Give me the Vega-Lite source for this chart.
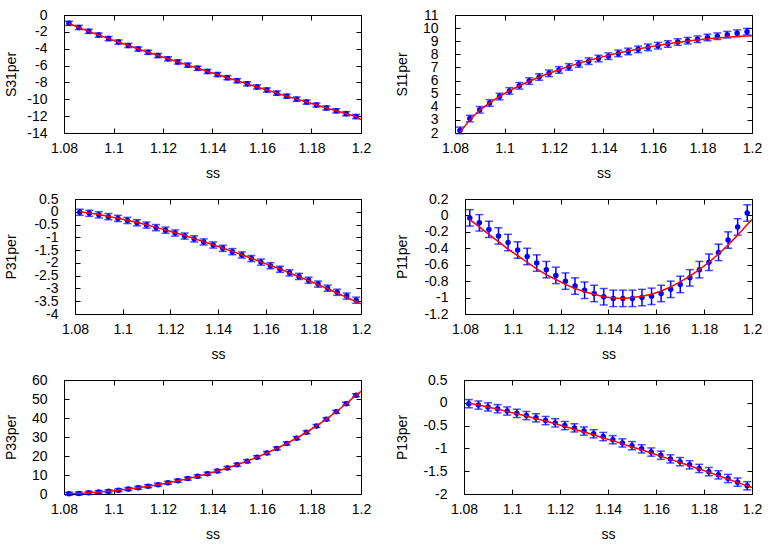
{
  "$schema": "https://vega.github.io/schema/vega-lite/v6.json",
  "padding": {"left": 4, "top": 8, "right": 0, "bottom": 0},
  "spacing": 12,
  "config": {
    "view": {"stroke": null},
    "axis": {"grid": false, "domain": true, "domainColor": "#000000", "domainWidth": 1, "labelFont": "Liberation Sans", "titleFont": "Liberation Sans", "labelFontSize": 14, "titleFontSize": 14, "titleFontWeight": "normal", "labelColor": "#000000", "titleColor": "#000000", "tickColor": "#000000", "tickSize": -5, "tickWidth": 1, "labelFlush": false, "labelOverlap": false}
  },
  "datasets": {
    "p1": [{"ss":1.082,"v":-0.99,"e":0.25},{"ss":1.086,"v":-1.48,"e":0.25},{"ss":1.09,"v":-1.94,"e":0.25},{"ss":1.094,"v":-2.38,"e":0.25},{"ss":1.098,"v":-2.8,"e":0.25},{"ss":1.102,"v":-3.21,"e":0.25},{"ss":1.106,"v":-3.62,"e":0.25},{"ss":1.11,"v":-4.03,"e":0.25},{"ss":1.114,"v":-4.42,"e":0.25},{"ss":1.118,"v":-4.81,"e":0.25},{"ss":1.122,"v":-5.2,"e":0.25},{"ss":1.126,"v":-5.57,"e":0.25},{"ss":1.13,"v":-5.95,"e":0.25},{"ss":1.134,"v":-6.32,"e":0.25},{"ss":1.138,"v":-6.7,"e":0.25},{"ss":1.142,"v":-7.07,"e":0.25},{"ss":1.146,"v":-7.44,"e":0.25},{"ss":1.15,"v":-7.8,"e":0.25},{"ss":1.154,"v":-8.17,"e":0.25},{"ss":1.158,"v":-8.54,"e":0.25},{"ss":1.162,"v":-8.9,"e":0.25},{"ss":1.166,"v":-9.27,"e":0.25},{"ss":1.17,"v":-9.63,"e":0.25},{"ss":1.174,"v":-9.98,"e":0.25},{"ss":1.178,"v":-10.33,"e":0.25},{"ss":1.182,"v":-10.68,"e":0.25},{"ss":1.186,"v":-11.03,"e":0.25},{"ss":1.19,"v":-11.37,"e":0.25},{"ss":1.194,"v":-11.71,"e":0.25},{"ss":1.198,"v":-12.05,"e":0.25}],
    "p1f": [{"ss":1.082,"v":-0.99},{"ss":1.086,"v":-1.48},{"ss":1.09,"v":-1.94},{"ss":1.094,"v":-2.38},{"ss":1.098,"v":-2.8},{"ss":1.102,"v":-3.21},{"ss":1.106,"v":-3.62},{"ss":1.11,"v":-4.03},{"ss":1.114,"v":-4.42},{"ss":1.118,"v":-4.81},{"ss":1.122,"v":-5.2},{"ss":1.126,"v":-5.57},{"ss":1.13,"v":-5.95},{"ss":1.134,"v":-6.32},{"ss":1.138,"v":-6.7},{"ss":1.142,"v":-7.07},{"ss":1.146,"v":-7.44},{"ss":1.15,"v":-7.8},{"ss":1.154,"v":-8.17},{"ss":1.158,"v":-8.54},{"ss":1.162,"v":-8.9},{"ss":1.166,"v":-9.27},{"ss":1.17,"v":-9.63},{"ss":1.174,"v":-9.98},{"ss":1.178,"v":-10.33},{"ss":1.182,"v":-10.68},{"ss":1.186,"v":-11.03},{"ss":1.19,"v":-11.37},{"ss":1.194,"v":-11.71},{"ss":1.198,"v":-12.05},{"ss":1.2,"v":-12.4}],
    "p2": [{"ss":1.082,"v":2.2,"e":0.25},{"ss":1.086,"v":3.1,"e":0.25},{"ss":1.09,"v":3.77,"e":0.25},{"ss":1.094,"v":4.29,"e":0.25},{"ss":1.098,"v":4.78,"e":0.25},{"ss":1.102,"v":5.21,"e":0.25},{"ss":1.106,"v":5.6,"e":0.25},{"ss":1.11,"v":5.96,"e":0.25},{"ss":1.114,"v":6.27,"e":0.25},{"ss":1.118,"v":6.55,"e":0.25},{"ss":1.122,"v":6.81,"e":0.25},{"ss":1.126,"v":7.04,"e":0.25},{"ss":1.13,"v":7.27,"e":0.25},{"ss":1.134,"v":7.48,"e":0.25},{"ss":1.138,"v":7.68,"e":0.25},{"ss":1.142,"v":7.86,"e":0.25},{"ss":1.146,"v":8.07,"e":0.25},{"ss":1.15,"v":8.22,"e":0.25},{"ss":1.154,"v":8.38,"e":0.25},{"ss":1.158,"v":8.53,"e":0.25},{"ss":1.162,"v":8.66,"e":0.25},{"ss":1.166,"v":8.79,"e":0.25},{"ss":1.17,"v":8.94,"e":0.25},{"ss":1.174,"v":9.04,"e":0.25},{"ss":1.178,"v":9.15,"e":0.25},{"ss":1.182,"v":9.28,"e":0.25},{"ss":1.186,"v":9.38,"e":0.25},{"ss":1.19,"v":9.5,"e":0.25},{"ss":1.194,"v":9.61,"e":0.25},{"ss":1.198,"v":9.73,"e":0.25}],
    "p2f": [{"ss":1.082,"v":2.05},{"ss":1.086,"v":3.0},{"ss":1.09,"v":3.75},{"ss":1.094,"v":4.3},{"ss":1.098,"v":4.8},{"ss":1.102,"v":5.22},{"ss":1.106,"v":5.6},{"ss":1.11,"v":5.95},{"ss":1.114,"v":6.27},{"ss":1.118,"v":6.56},{"ss":1.122,"v":6.83},{"ss":1.126,"v":7.08},{"ss":1.13,"v":7.31},{"ss":1.134,"v":7.53},{"ss":1.138,"v":7.73},{"ss":1.142,"v":7.92},{"ss":1.146,"v":8.1},{"ss":1.15,"v":8.26},{"ss":1.154,"v":8.41},{"ss":1.158,"v":8.55},{"ss":1.162,"v":8.68},{"ss":1.166,"v":8.8},{"ss":1.17,"v":8.91},{"ss":1.174,"v":9.01},{"ss":1.178,"v":9.1},{"ss":1.182,"v":9.18},{"ss":1.186,"v":9.25},{"ss":1.19,"v":9.31},{"ss":1.194,"v":9.36},{"ss":1.198,"v":9.4},{"ss":1.2,"v":9.41}],
    "p3": [{"ss":1.082,"v":-0.02,"e":0.12},{"ss":1.086,"v":-0.06,"e":0.12},{"ss":1.09,"v":-0.12,"e":0.12},{"ss":1.094,"v":-0.19,"e":0.12},{"ss":1.098,"v":-0.26,"e":0.12},{"ss":1.102,"v":-0.34,"e":0.12},{"ss":1.106,"v":-0.43,"e":0.12},{"ss":1.11,"v":-0.52,"e":0.12},{"ss":1.114,"v":-0.62,"e":0.12},{"ss":1.118,"v":-0.72,"e":0.12},{"ss":1.122,"v":-0.83,"e":0.12},{"ss":1.126,"v":-0.95,"e":0.12},{"ss":1.13,"v":-1.06,"e":0.12},{"ss":1.134,"v":-1.18,"e":0.12},{"ss":1.138,"v":-1.3,"e":0.12},{"ss":1.142,"v":-1.43,"e":0.12},{"ss":1.146,"v":-1.56,"e":0.12},{"ss":1.15,"v":-1.69,"e":0.12},{"ss":1.154,"v":-1.83,"e":0.12},{"ss":1.158,"v":-1.97,"e":0.12},{"ss":1.162,"v":-2.11,"e":0.12},{"ss":1.166,"v":-2.25,"e":0.12},{"ss":1.17,"v":-2.39,"e":0.12},{"ss":1.174,"v":-2.53,"e":0.12},{"ss":1.178,"v":-2.68,"e":0.12},{"ss":1.182,"v":-2.83,"e":0.12},{"ss":1.186,"v":-2.99,"e":0.12},{"ss":1.19,"v":-3.15,"e":0.12},{"ss":1.194,"v":-3.3,"e":0.12},{"ss":1.198,"v":-3.46,"e":0.12}],
    "p3f": [{"ss":1.082,"v":0.0},{"ss":1.086,"v":-0.05},{"ss":1.09,"v":-0.11},{"ss":1.094,"v":-0.18},{"ss":1.098,"v":-0.25},{"ss":1.102,"v":-0.33},{"ss":1.106,"v":-0.42},{"ss":1.11,"v":-0.51},{"ss":1.114,"v":-0.61},{"ss":1.118,"v":-0.71},{"ss":1.122,"v":-0.82},{"ss":1.126,"v":-0.93},{"ss":1.13,"v":-1.05},{"ss":1.134,"v":-1.17},{"ss":1.138,"v":-1.29},{"ss":1.142,"v":-1.42},{"ss":1.146,"v":-1.55},{"ss":1.15,"v":-1.68},{"ss":1.154,"v":-1.82},{"ss":1.158,"v":-1.96},{"ss":1.162,"v":-2.1},{"ss":1.166,"v":-2.24},{"ss":1.17,"v":-2.39},{"ss":1.174,"v":-2.54},{"ss":1.178,"v":-2.69},{"ss":1.182,"v":-2.85},{"ss":1.186,"v":-3.01},{"ss":1.19,"v":-3.18},{"ss":1.194,"v":-3.35},{"ss":1.198,"v":-3.52},{"ss":1.2,"v":-3.6}],
    "p4": [{"ss":1.082,"v":-0.03,"e":0.1},{"ss":1.086,"v":-0.09,"e":0.1},{"ss":1.09,"v":-0.17,"e":0.1},{"ss":1.094,"v":-0.25,"e":0.1},{"ss":1.098,"v":-0.33,"e":0.1},{"ss":1.102,"v":-0.42,"e":0.1},{"ss":1.106,"v":-0.5,"e":0.1},{"ss":1.11,"v":-0.58,"e":0.1},{"ss":1.114,"v":-0.66,"e":0.1},{"ss":1.118,"v":-0.73,"e":0.1},{"ss":1.122,"v":-0.8,"e":0.1},{"ss":1.126,"v":-0.86,"e":0.1},{"ss":1.13,"v":-0.91,"e":0.1},{"ss":1.134,"v":-0.95,"e":0.1},{"ss":1.138,"v":-0.99,"e":0.1},{"ss":1.142,"v":-1.01,"e":0.1},{"ss":1.146,"v":-1.01,"e":0.1},{"ss":1.15,"v":-1.01,"e":0.1},{"ss":1.154,"v":-1.0,"e":0.1},{"ss":1.158,"v":-0.985,"e":0.1},{"ss":1.162,"v":-0.95,"e":0.1},{"ss":1.166,"v":-0.9,"e":0.1},{"ss":1.17,"v":-0.84,"e":0.1},{"ss":1.174,"v":-0.76,"e":0.1},{"ss":1.178,"v":-0.66,"e":0.1},{"ss":1.182,"v":-0.57,"e":0.1},{"ss":1.186,"v":-0.45,"e":0.1},{"ss":1.19,"v":-0.3,"e":0.1},{"ss":1.194,"v":-0.14,"e":0.1},{"ss":1.198,"v":0.03,"e":0.1}],
    "p4f": [{"ss":1.082,"v":-0.05},{"ss":1.086,"v":-0.14},{"ss":1.09,"v":-0.23},{"ss":1.094,"v":-0.32},{"ss":1.098,"v":-0.41},{"ss":1.102,"v":-0.49},{"ss":1.106,"v":-0.57},{"ss":1.11,"v":-0.65},{"ss":1.114,"v":-0.72},{"ss":1.118,"v":-0.78},{"ss":1.122,"v":-0.84},{"ss":1.126,"v":-0.89},{"ss":1.13,"v":-0.93},{"ss":1.134,"v":-0.96},{"ss":1.138,"v":-0.99},{"ss":1.142,"v":-1.005},{"ss":1.146,"v":-1.01},{"ss":1.15,"v":-1.0},{"ss":1.154,"v":-0.985},{"ss":1.158,"v":-0.96},{"ss":1.162,"v":-0.92},{"ss":1.166,"v":-0.87},{"ss":1.17,"v":-0.81},{"ss":1.174,"v":-0.74},{"ss":1.178,"v":-0.66},{"ss":1.182,"v":-0.57},{"ss":1.186,"v":-0.47},{"ss":1.19,"v":-0.36},{"ss":1.194,"v":-0.24},{"ss":1.198,"v":-0.11},{"ss":1.2,"v":-0.05}],
    "p5": [{"ss":1.082,"v":0.1,"e":0.8},{"ss":1.086,"v":0.3,"e":0.8},{"ss":1.09,"v":0.6,"e":0.8},{"ss":1.094,"v":1.0,"e":0.8},{"ss":1.098,"v":1.4,"e":0.8},{"ss":1.102,"v":2.0,"e":0.8},{"ss":1.106,"v":2.6,"e":0.8},{"ss":1.11,"v":3.3,"e":0.8},{"ss":1.114,"v":4.1,"e":0.8},{"ss":1.118,"v":4.9,"e":0.8},{"ss":1.122,"v":5.9,"e":0.8},{"ss":1.126,"v":7.0,"e":0.8},{"ss":1.13,"v":8.1,"e":0.8},{"ss":1.134,"v":9.3,"e":0.8},{"ss":1.138,"v":10.7,"e":0.8},{"ss":1.142,"v":12.1,"e":0.8},{"ss":1.146,"v":13.7,"e":0.8},{"ss":1.15,"v":15.4,"e":0.8},{"ss":1.154,"v":17.3,"e":0.8},{"ss":1.158,"v":19.4,"e":0.8},{"ss":1.162,"v":21.6,"e":0.8},{"ss":1.166,"v":24.0,"e":0.8},{"ss":1.17,"v":26.6,"e":0.8},{"ss":1.174,"v":29.4,"e":0.8},{"ss":1.178,"v":32.5,"e":0.8},{"ss":1.182,"v":35.8,"e":0.8},{"ss":1.186,"v":39.4,"e":0.8},{"ss":1.19,"v":43.3,"e":0.8},{"ss":1.194,"v":47.5,"e":0.8},{"ss":1.198,"v":52.0,"e":0.8}],
    "p5f": [{"ss":1.082,"v":0.1},{"ss":1.086,"v":0.3},{"ss":1.09,"v":0.6},{"ss":1.094,"v":1.0},{"ss":1.098,"v":1.4},{"ss":1.102,"v":2.0},{"ss":1.106,"v":2.6},{"ss":1.11,"v":3.3},{"ss":1.114,"v":4.1},{"ss":1.118,"v":4.9},{"ss":1.122,"v":5.9},{"ss":1.126,"v":7.0},{"ss":1.13,"v":8.1},{"ss":1.134,"v":9.3},{"ss":1.138,"v":10.7},{"ss":1.142,"v":12.1},{"ss":1.146,"v":13.7},{"ss":1.15,"v":15.4},{"ss":1.154,"v":17.3},{"ss":1.158,"v":19.4},{"ss":1.162,"v":21.6},{"ss":1.166,"v":24.0},{"ss":1.17,"v":26.6},{"ss":1.174,"v":29.4},{"ss":1.178,"v":32.5},{"ss":1.182,"v":35.8},{"ss":1.186,"v":39.4},{"ss":1.19,"v":43.3},{"ss":1.194,"v":47.5},{"ss":1.198,"v":52.0},{"ss":1.2,"v":54.0}],
    "p6": [{"ss":1.082,"v":-0.02,"e":0.09},{"ss":1.086,"v":-0.05,"e":0.09},{"ss":1.09,"v":-0.09,"e":0.09},{"ss":1.094,"v":-0.13,"e":0.09},{"ss":1.098,"v":-0.18,"e":0.09},{"ss":1.102,"v":-0.23,"e":0.09},{"ss":1.106,"v":-0.28,"e":0.09},{"ss":1.11,"v":-0.33,"e":0.09},{"ss":1.114,"v":-0.39,"e":0.09},{"ss":1.118,"v":-0.44,"e":0.09},{"ss":1.122,"v":-0.5,"e":0.09},{"ss":1.126,"v":-0.55,"e":0.09},{"ss":1.13,"v":-0.62,"e":0.09},{"ss":1.134,"v":-0.68,"e":0.09},{"ss":1.138,"v":-0.74,"e":0.09},{"ss":1.142,"v":-0.81,"e":0.09},{"ss":1.146,"v":-0.88,"e":0.09},{"ss":1.15,"v":-0.94,"e":0.09},{"ss":1.154,"v":-1.01,"e":0.09},{"ss":1.158,"v":-1.08,"e":0.09},{"ss":1.162,"v":-1.15,"e":0.09},{"ss":1.166,"v":-1.23,"e":0.09},{"ss":1.17,"v":-1.29,"e":0.09},{"ss":1.174,"v":-1.36,"e":0.09},{"ss":1.178,"v":-1.44,"e":0.09},{"ss":1.182,"v":-1.51,"e":0.09},{"ss":1.186,"v":-1.58,"e":0.09},{"ss":1.19,"v":-1.66,"e":0.09},{"ss":1.194,"v":-1.74,"e":0.09},{"ss":1.198,"v":-1.82,"e":0.09}],
    "p6f": [{"ss":1.082,"v":-0.01},{"ss":1.086,"v":-0.05},{"ss":1.09,"v":-0.09},{"ss":1.094,"v":-0.14},{"ss":1.098,"v":-0.19},{"ss":1.102,"v":-0.24},{"ss":1.106,"v":-0.29},{"ss":1.11,"v":-0.35},{"ss":1.114,"v":-0.4},{"ss":1.118,"v":-0.46},{"ss":1.122,"v":-0.52},{"ss":1.126,"v":-0.58},{"ss":1.13,"v":-0.64},{"ss":1.134,"v":-0.7},{"ss":1.138,"v":-0.77},{"ss":1.142,"v":-0.83},{"ss":1.146,"v":-0.9},{"ss":1.15,"v":-0.97},{"ss":1.154,"v":-1.03},{"ss":1.158,"v":-1.1},{"ss":1.162,"v":-1.17},{"ss":1.166,"v":-1.24},{"ss":1.17,"v":-1.31},{"ss":1.174,"v":-1.38},{"ss":1.178,"v":-1.45},{"ss":1.182,"v":-1.52},{"ss":1.186,"v":-1.6},{"ss":1.19,"v":-1.67},{"ss":1.194,"v":-1.75},{"ss":1.198,"v":-1.82},{"ss":1.2,"v":-1.86}]
  },
  "vconcat": [
    {"hconcat": [
      {"width": 297, "height": 118, "resolve": {"axis": {"x": "independent", "y": "independent"}},
       "layer": [
        {"data": {"name": "p1"}, "mark": {"type": "errorbar", "color": "#0000ff", "thickness": 1.5, "ticks": {"size": 8, "thickness": 1.5}},
         "encoding": {"x": {"field": "ss", "type": "quantitative", "scale": {"domain": [1.08, 1.2], "range": [0, 297], "nice": false, "zero": false}, "axis": null},
                      "y": {"field": "v", "type": "quantitative", "scale": {"domain": [-14, 0], "nice": false, "zero": false}, "axis": null},
                      "yError": {"field": "e"}}},
        {"data": {"name": "p1"}, "mark": {"type": "point", "filled": true, "shape": "circle", "size": 30, "color": "#0000ff", "opacity": 1},
         "encoding": {"x": {"field": "ss", "type": "quantitative", "scale": {"domain": [1.08, 1.2], "range": [0, 297], "nice": false, "zero": false}, "axis": {"orient": "top", "values": [1.08,1.1,1.12,1.14,1.16,1.18,1.2], "labels": false, "title": null}},
                      "y": {"field": "v", "type": "quantitative", "scale": {"domain": [-14, 0], "nice": false, "zero": false}, "axis": {"orient": "right", "values": [0,-2,-4,-6,-8,-10,-12,-14], "labels": false, "title": null}}}},
        {"data": {"name": "p1f"}, "mark": {"type": "line", "color": "#ff0000", "strokeWidth": 1.5, "clip": true},
         "encoding": {"x": {"field": "ss", "type": "quantitative", "scale": {"domain": [1.08, 1.2], "range": [0, 297], "nice": false, "zero": false}, "axis": {"orient": "bottom", "values": [1.08,1.1,1.12,1.14,1.16,1.18,1.2], "labelExpr": "toString(datum.value)", "title": "ss", "labelPadding": 13, "minExtent": 23, "maxExtent": 23, "titlePadding": 10}},
                      "y": {"field": "v", "type": "quantitative", "scale": {"domain": [-14, 0], "nice": false, "zero": false}, "axis": {"orient": "left", "offset": 0, "values": [0,-2,-4,-6,-8,-10,-12,-14], "labelExpr": "toString(datum.value)", "title": "S31per", "labelPadding": 22, "minExtent": 46, "maxExtent": 46, "titlePadding": 0}}}}
       ]},
      {"width": 297, "height": 118, "resolve": {"axis": {"x": "independent", "y": "independent"}},
       "layer": [
        {"data": {"name": "p2"}, "mark": {"type": "errorbar", "color": "#0000ff", "thickness": 1.5, "ticks": {"size": 8, "thickness": 1.5}},
         "encoding": {"x": {"field": "ss", "type": "quantitative", "scale": {"domain": [1.08, 1.2], "range": [0, 297], "nice": false, "zero": false}, "axis": null},
                      "y": {"field": "v", "type": "quantitative", "scale": {"domain": [2, 11], "nice": false, "zero": false}, "axis": null},
                      "yError": {"field": "e"}}},
        {"data": {"name": "p2"}, "mark": {"type": "point", "filled": true, "shape": "circle", "size": 30, "color": "#0000ff", "opacity": 1},
         "encoding": {"x": {"field": "ss", "type": "quantitative", "scale": {"domain": [1.08, 1.2], "range": [0, 297], "nice": false, "zero": false}, "axis": {"orient": "top", "values": [1.08,1.1,1.12,1.14,1.16,1.18,1.2], "labels": false, "title": null}},
                      "y": {"field": "v", "type": "quantitative", "scale": {"domain": [2, 11], "nice": false, "zero": false}, "axis": {"orient": "right", "values": [2,3,4,5,6,7,8,9,10,11], "labels": false, "title": null}}}},
        {"data": {"name": "p2f"}, "mark": {"type": "line", "color": "#ff0000", "strokeWidth": 1.5, "clip": true},
         "encoding": {"x": {"field": "ss", "type": "quantitative", "scale": {"domain": [1.08, 1.2], "range": [0, 297], "nice": false, "zero": false}, "axis": {"orient": "bottom", "values": [1.08,1.1,1.12,1.14,1.16,1.18,1.2], "labelExpr": "toString(datum.value)", "title": "ss", "labelPadding": 13, "minExtent": 23, "maxExtent": 23, "titlePadding": 10}},
                      "y": {"field": "v", "type": "quantitative", "scale": {"domain": [2, 11], "nice": false, "zero": false}, "axis": {"orient": "left", "offset": 0, "values": [2,3,4,5,6,7,8,9,10,11], "labelExpr": "toString(datum.value)", "title": "S11per", "labelPadding": 22, "minExtent": 46, "maxExtent": 46, "titlePadding": 0}}}}
       ]}
    ], "spacing": 24},
    {"hconcat": [
      {"width": 297, "height": 115, "resolve": {"axis": {"x": "independent", "y": "independent"}},
       "layer": [
        {"data": {"name": "p3"}, "mark": {"type": "errorbar", "color": "#0000ff", "thickness": 1.5, "ticks": {"size": 8, "thickness": 1.5}},
         "encoding": {"x": {"field": "ss", "type": "quantitative", "scale": {"domain": [1.08, 1.2], "range": [11, 297], "nice": false, "zero": false}, "axis": null},
                      "y": {"field": "v", "type": "quantitative", "scale": {"domain": [-4, 0.5], "nice": false, "zero": false}, "axis": null},
                      "yError": {"field": "e"}}},
        {"data": {"name": "p3"}, "mark": {"type": "point", "filled": true, "shape": "circle", "size": 30, "color": "#0000ff", "opacity": 1},
         "encoding": {"x": {"field": "ss", "type": "quantitative", "scale": {"domain": [1.08, 1.2], "range": [11, 297], "nice": false, "zero": false}, "axis": {"orient": "top", "values": [1.08,1.1,1.12,1.14,1.16,1.18,1.2], "labels": false, "title": null}},
                      "y": {"field": "v", "type": "quantitative", "scale": {"domain": [-4, 0.5], "nice": false, "zero": false}, "axis": {"orient": "right", "values": [0.5,0,-0.5,-1,-1.5,-2,-2.5,-3,-3.5,-4], "labels": false, "title": null}}}},
        {"data": {"name": "p3f"}, "mark": {"type": "line", "color": "#ff0000", "strokeWidth": 1.5, "clip": true},
         "encoding": {"x": {"field": "ss", "type": "quantitative", "scale": {"domain": [1.08, 1.2], "range": [11, 297], "nice": false, "zero": false}, "axis": {"orient": "bottom", "values": [1.08,1.1,1.12,1.14,1.16,1.18,1.2], "labelExpr": "toString(datum.value)", "title": "ss", "labelPadding": 13, "minExtent": 23, "maxExtent": 23, "titlePadding": 10}},
                      "y": {"field": "v", "type": "quantitative", "scale": {"domain": [-4, 0.5], "nice": false, "zero": false}, "axis": {"orient": "left", "offset": -11, "values": [0.5,0,-0.5,-1,-1.5,-2,-2.5,-3,-3.5,-4], "labelExpr": "toString(datum.value)", "title": "P31per", "labelPadding": 22, "minExtent": 57, "maxExtent": 57, "titlePadding": 0}}}}
       ]},
      {"width": 297, "height": 115, "resolve": {"axis": {"x": "independent", "y": "independent"}},
       "layer": [
        {"data": {"name": "p4"}, "mark": {"type": "errorbar", "color": "#0000ff", "thickness": 1.5, "ticks": {"size": 8, "thickness": 1.5}},
         "encoding": {"x": {"field": "ss", "type": "quantitative", "scale": {"domain": [1.08, 1.2], "range": [10, 297], "nice": false, "zero": false}, "axis": null},
                      "y": {"field": "v", "type": "quantitative", "scale": {"domain": [-1.2, 0.2], "nice": false, "zero": false}, "axis": null},
                      "yError": {"field": "e"}}},
        {"data": {"name": "p4"}, "mark": {"type": "point", "filled": true, "shape": "circle", "size": 30, "color": "#0000ff", "opacity": 1},
         "encoding": {"x": {"field": "ss", "type": "quantitative", "scale": {"domain": [1.08, 1.2], "range": [10, 297], "nice": false, "zero": false}, "axis": {"orient": "top", "values": [1.08,1.1,1.12,1.14,1.16,1.18,1.2], "labels": false, "title": null}},
                      "y": {"field": "v", "type": "quantitative", "scale": {"domain": [-1.2, 0.2], "nice": false, "zero": false}, "axis": {"orient": "right", "values": [0.2,0,-0.2,-0.4,-0.6,-0.8,-1,-1.2], "labels": false, "title": null}}}},
        {"data": {"name": "p4f"}, "mark": {"type": "line", "color": "#ff0000", "strokeWidth": 1.5, "clip": true},
         "encoding": {"x": {"field": "ss", "type": "quantitative", "scale": {"domain": [1.08, 1.2], "range": [10, 297], "nice": false, "zero": false}, "axis": {"orient": "bottom", "values": [1.08,1.1,1.12,1.14,1.16,1.18,1.2], "labelExpr": "toString(datum.value)", "title": "ss", "labelPadding": 13, "minExtent": 23, "maxExtent": 23, "titlePadding": 10}},
                      "y": {"field": "v", "type": "quantitative", "scale": {"domain": [-1.2, 0.2], "nice": false, "zero": false}, "axis": {"orient": "left", "offset": -10, "values": [0.2,0,-0.2,-0.4,-0.6,-0.8,-1,-1.2], "labelExpr": "toString(datum.value)", "title": "P11per", "labelPadding": 22, "minExtent": 56, "maxExtent": 56, "titlePadding": 0}}}}
       ]}
    ], "spacing": 24},
    {"hconcat": [
      {"width": 297, "height": 114, "resolve": {"axis": {"x": "independent", "y": "independent"}},
       "layer": [
        {"data": {"name": "p5"}, "mark": {"type": "errorbar", "color": "#0000ff", "thickness": 1.5, "ticks": {"size": 8, "thickness": 1.5}},
         "encoding": {"x": {"field": "ss", "type": "quantitative", "scale": {"domain": [1.08, 1.2], "range": [0, 297], "nice": false, "zero": false}, "axis": null},
                      "y": {"field": "v", "type": "quantitative", "scale": {"domain": [0, 60], "nice": false, "zero": false}, "axis": null},
                      "yError": {"field": "e"}}},
        {"data": {"name": "p5"}, "mark": {"type": "point", "filled": true, "shape": "circle", "size": 30, "color": "#0000ff", "opacity": 1},
         "encoding": {"x": {"field": "ss", "type": "quantitative", "scale": {"domain": [1.08, 1.2], "range": [0, 297], "nice": false, "zero": false}, "axis": {"orient": "top", "values": [1.08,1.1,1.12,1.14,1.16,1.18,1.2], "labels": false, "title": null}},
                      "y": {"field": "v", "type": "quantitative", "scale": {"domain": [0, 60], "nice": false, "zero": false}, "axis": {"orient": "right", "values": [0,10,20,30,40,50,60], "labels": false, "title": null}}}},
        {"data": {"name": "p5f"}, "mark": {"type": "line", "color": "#ff0000", "strokeWidth": 1.5, "clip": true},
         "encoding": {"x": {"field": "ss", "type": "quantitative", "scale": {"domain": [1.08, 1.2], "range": [0, 297], "nice": false, "zero": false}, "axis": {"orient": "bottom", "values": [1.08,1.1,1.12,1.14,1.16,1.18,1.2], "labelExpr": "toString(datum.value)", "title": "ss", "labelPadding": 13, "minExtent": 23, "maxExtent": 23, "titlePadding": 10}},
                      "y": {"field": "v", "type": "quantitative", "scale": {"domain": [0, 60], "nice": false, "zero": false}, "axis": {"orient": "left", "offset": 0, "values": [0,10,20,30,40,50,60], "labelExpr": "toString(datum.value)", "title": "P33per", "labelPadding": 22, "minExtent": 46, "maxExtent": 46, "titlePadding": 0}}}}
       ]},
      {"width": 297, "height": 114, "resolve": {"axis": {"x": "independent", "y": "independent"}},
       "layer": [
        {"data": {"name": "p6"}, "mark": {"type": "errorbar", "color": "#0000ff", "thickness": 1.5, "ticks": {"size": 8, "thickness": 1.5}},
         "encoding": {"x": {"field": "ss", "type": "quantitative", "scale": {"domain": [1.08, 1.2], "range": [9, 297], "nice": false, "zero": false}, "axis": null},
                      "y": {"field": "v", "type": "quantitative", "scale": {"domain": [-2, 0.5], "nice": false, "zero": false}, "axis": null},
                      "yError": {"field": "e"}}},
        {"data": {"name": "p6"}, "mark": {"type": "point", "filled": true, "shape": "circle", "size": 30, "color": "#0000ff", "opacity": 1},
         "encoding": {"x": {"field": "ss", "type": "quantitative", "scale": {"domain": [1.08, 1.2], "range": [9, 297], "nice": false, "zero": false}, "axis": {"orient": "top", "values": [1.08,1.1,1.12,1.14,1.16,1.18,1.2], "labels": false, "title": null}},
                      "y": {"field": "v", "type": "quantitative", "scale": {"domain": [-2, 0.5], "nice": false, "zero": false}, "axis": {"orient": "right", "values": [0.5,0,-0.5,-1,-1.5,-2], "labels": false, "title": null}}}},
        {"data": {"name": "p6f"}, "mark": {"type": "line", "color": "#ff0000", "strokeWidth": 1.5, "clip": true},
         "encoding": {"x": {"field": "ss", "type": "quantitative", "scale": {"domain": [1.08, 1.2], "range": [9, 297], "nice": false, "zero": false}, "axis": {"orient": "bottom", "values": [1.08,1.1,1.12,1.14,1.16,1.18,1.2], "labelExpr": "toString(datum.value)", "title": "ss", "labelPadding": 13, "minExtent": 23, "maxExtent": 23, "titlePadding": 10}},
                      "y": {"field": "v", "type": "quantitative", "scale": {"domain": [-2, 0.5], "nice": false, "zero": false}, "axis": {"orient": "left", "offset": -9, "values": [0.5,0,-0.5,-1,-1.5,-2], "labelExpr": "toString(datum.value)", "title": "P13per", "labelPadding": 22, "minExtent": 55, "maxExtent": 55, "titlePadding": 0}}}}
       ]}
    ], "spacing": 24}
  ]
}
